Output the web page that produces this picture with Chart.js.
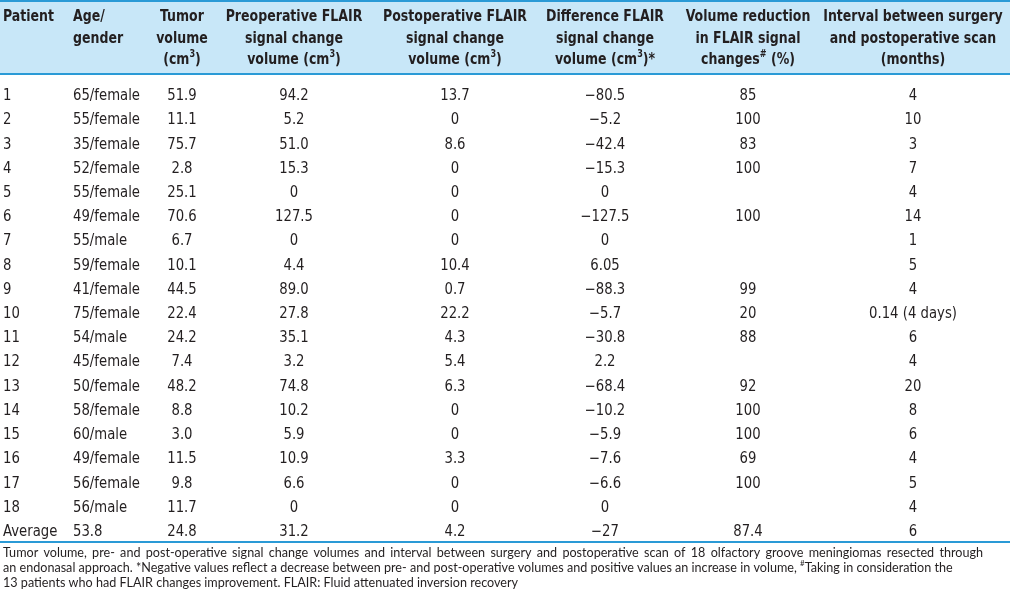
<!DOCTYPE html>
<html>
<head>
<meta charset="utf-8">
<script src="https://cdn.jsdelivr.net/npm/chart.js@4/dist/chart.umd.min.js"></script>
<style>
  html, body { margin: 0; padding: 0; background: #fff; }
  canvas { display: block; }
</style>
</head>
<body>
<canvas id="chart" width="1010" height="602"></canvas>
<script>
// table values, one array per column
const patients = ["1", "2", "3", "4", "5", "6", "7", "8", "9", "10", "11", "12", "13", "14", "15", "16", "17", "18", "Average"];
const ageGender = ["65/female", "55/female", "35/female", "52/female", "55/female", "49/female", "55/male", "59/female", "41/female",
    "75/female", "54/male", "45/female", "50/female", "58/female", "60/male", "49/female", "56/female", "56/male", "53.8"];
const tumorVolume = ["51.9", "11.1", "75.7", "2.8", "25.1", "70.6", "6.7", "10.1", "44.5", "22.4", "24.2", "7.4", "48.2", "8.8",
    "3.0", "11.5", "9.8", "11.7", "24.8"];
const preopFlair = ["94.2", "5.2", "51.0", "15.3", "0", "127.5", "0", "4.4", "89.0", "27.8", "35.1", "3.2", "74.8", "10.2",
    "5.9", "10.9", "6.6", "0", "31.2"];
const postopFlair = ["13.7", "0", "8.6", "0", "0", "0", "0", "10.4", "0.7", "22.2", "4.3", "5.4", "6.3", "0", "0", "3.3", "0", "0", "4.2"];
const diffFlair = ["\u221280.5", "\u22125.2", "\u221242.4", "\u221215.3", "0", "\u2212127.5", "0", "6.05", "\u221288.3", "\u22125.7",
    "\u221230.8", "2.2", "\u221268.4", "\u221210.2", "\u22125.9", "\u22127.6", "\u22126.6", "0", "\u221227"];
const volReduction = ["85", "100", "83", "100", "", "100", "", "", "99", "20", "88", "", "92", "100", "100", "69", "100", "", "87.4"];
const intervalMonths = ["4", "10", "3", "7", "4", "14", "1", "5", "4", "0.14 (4 days)", "6", "4", "20", "8", "6", "4", "5", "4", "6"];

// header lines per column ("^" marks a superscript character)
const headers = [
    ["Patient"],
    ["Age/", "gender"],
    ["Tumor", "volume", "(cm^3)"],
    ["Preoperative FLAIR", "signal change", "volume (cm^3)"],
    ["Postoperative FLAIR", "signal change", "volume (cm^3)"],
    ["Difference FLAIR", "signal change", "volume (cm^3)*"],
    ["Volume reduction", "in FLAIR signal", "changes^# (%)"],
    ["Interval between surgery", "and postoperative scan", "(months)"]
];

const footnote = [
    "Tumor volume, pre- and post-operative signal change volumes and interval between surgery and postoperative scan of 18 olfactory groove meningiomas resected through",
    "an endonasal approach. *Negative values reflect a decrease between pre- and post-operative volumes and positive values an increase in volume, ^#Taking in consideration the",
    "13 patients who had FLAIR changes improvement. FLAIR: Fluid attenuated inversion recovery"
];

const columns = [patients, ageGender, tumorVolume, preopFlair, postopFlair, diffFlair, volReduction, intervalMonths];

// layout (x scale units = px)
const colX = [3, 73, 182, 294, 455, 605, 748, 913];
const colAlign = ["left", "left", "center", "center", "center", "center", "center", "center"];

const BLUE = "#2a9ad6";
const HEAD_BG = "#c8e7f8";
const INK = "#231f20";
const NARROW = "'Liberation Sans Narrow', 'DejaVu Sans Condensed', sans-serif";
const FOOT = "Lato, 'Open Sans', sans-serif";

function drawRich(ctx, str, x, y, align, size, weight, family, sx) {
    const parts = [];
    for (let i = 0; i < str.length; i++) {
        if (str[i] === "^" && i + 1 < str.length) {
            parts.push({ t: str[i + 1], sup: true });
            i++;
        } else {
            if (parts.length && !parts[parts.length - 1].sup) parts[parts.length - 1].t += str[i];
            else parts.push({ t: str[i], sup: false });
        }
    }
    const full = weight + " " + size + "px " + family;
    const small = weight + " " + Math.round(size * 0.62) + "px " + family;
    let w = 0;
    for (const p of parts) {
        ctx.font = p.sup ? small : full;
        p.w = ctx.measureText(p.t).width * sx;
        w += p.w;
    }
    let cx = align === "center" ? x - w / 2 : x;
    ctx.textAlign = "left";
    ctx.textBaseline = "middle";
    for (const p of parts) {
        ctx.font = p.sup ? small : full;
        ctx.save();
        ctx.translate(cx, p.sup ? y - size * 0.35 : y);
        ctx.scale(sx, 1);
        ctx.fillText(p.t, 0, 0);
        ctx.restore();
        cx += p.w;
    }
}

// first caption line is set justified, like the printed page
function drawJustified(ctx, str, x, y, width, font) {
    ctx.font = font;
    ctx.textAlign = "left";
    ctx.textBaseline = "middle";
    const words = str.split(" ");
    const natural = words.reduce((s, wd) => s + ctx.measureText(wd).width, 0);
    const gap = (width - natural) / (words.length - 1);
    let cx = x;
    words.forEach(wd => {
        ctx.fillText(wd, cx, y);
        cx += ctx.measureText(wd).width + gap;
    });
}

const tablePlugin = {
    id: "table",
    beforeDatasetsDraw(chart) {
        const ctx = chart.ctx;
        const area = chart.chartArea;
        const xs = chart.scales.x;
        const headTop = area.top - 84;
        ctx.save();
        // header band and rules
        ctx.fillStyle = HEAD_BG;
        ctx.fillRect(0, headTop, chart.width, 74);
        ctx.fillStyle = BLUE;
        ctx.fillRect(0, headTop, chart.width, 2);
        ctx.fillRect(0, headTop + 73, chart.width, 2);
        ctx.fillRect(0, area.bottom - 3, chart.width, 2);
        // header text
        ctx.fillStyle = INK;
        headers.forEach((lines, c) => {
            lines.forEach((s, k) => {
                drawRich(ctx, s, xs.getPixelForValue(colX[c]), headTop + 17 + k * 21.5, colAlign[c], 15.5, "bold", NARROW, 0.9);
            });
        });
        // footnote
        const footSize = 12.6;
        drawJustified(ctx, footnote[0], 3, area.bottom + 9, 980, "normal " + footSize + "px " + FOOT);
        footnote.slice(1).forEach((s, k) => {
            drawRich(ctx, s, 3, area.bottom + 24 + k * 15, "left", footSize, "normal", FOOT, 1);
        });
        ctx.restore();
    },
    afterDatasetsDraw(chart) {
        const ctx = chart.ctx;
        ctx.save();
        ctx.fillStyle = INK;
        chart.data.datasets.forEach((ds, c) => {
            const meta = chart.getDatasetMeta(c);
            meta.data.forEach((pt, r) => {
                const txt = ds.data[r].text;
                if (txt) drawRich(ctx, txt, pt.x, pt.y, colAlign[c], 15.5, "normal", NARROW, 0.95);
            });
        });
        ctx.restore();
    }
};

const datasets = columns.map((col, c) => ({
    label: "col" + c,
    data: col.map((v, r) => ({ x: colX[c], y: patients[r], text: v })),
    pointRadius: 0,
    pointHoverRadius: 0,
    showLine: false
}));

new Chart(document.getElementById("chart").getContext("2d"), {
    type: "scatter",
    data: { datasets: datasets },
    options: {
        animation: false,
        responsive: false,
        devicePixelRatio: 1,
        events: [],
        layout: { padding: { top: 84, bottom: 58, left: 0, right: 0 } },
        plugins: { legend: { display: false }, tooltip: { enabled: false } },
        scales: {
            x: { type: "linear", min: 0, max: 1010, display: false },
            y: { type: "category", labels: patients, offset: true, display: false }
        }
    },
    plugins: [tablePlugin]
});
</script>
</body>
</html>
